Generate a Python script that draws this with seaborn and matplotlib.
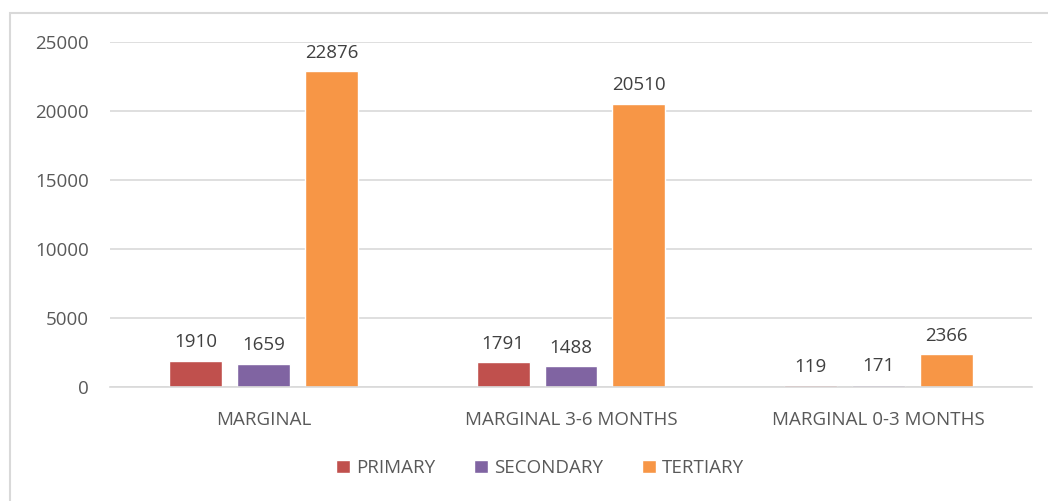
import pandas as pd
import seaborn as sns
import matplotlib.pyplot as plt
from matplotlib.patches import Rectangle

categories = ['MARGINAL', 'MARGINAL 3-6 MONTHS', 'MARGINAL 0-3 MONTHS']
primary = [1910, 1791, 119]
secondary = [1659, 1488, 171]
tertiary = [22876, 20510, 2366]
series = ['PRIMARY', 'SECONDARY', 'TERTIARY']
colors = ['#C0504D', '#8064A2', '#F79646']

df = pd.DataFrame({
    'category': categories * 3,
    'level': [s for s in series for _ in categories],
    'value': primary + secondary + tertiary,
})

sns.set_style('white')
plt.rcParams['font.family'] = ['Open Sans', 'DejaVu Sans']

W, H = 1048, 501
fs = 13.5
fig = plt.figure(figsize=(W / 100, H / 100), dpi=100)
ax = fig.add_axes([110 / W, 1 - 387 / H, 922 / W, 345 / H])

sns.barplot(data=df, x='category', y='value', hue='level', order=categories,
            hue_order=series, palette=colors, width=0.663, gap=0.22,
            saturation=1, ax=ax, legend=True)

for c in ax.containers:
    ax.bar_label(c, fmt='%d', padding=7, fontsize=fs, color='#404040')

ax.set_ylim(0, 25000)
ax.set_yticks(range(0, 25001, 5000))
ax.yaxis.grid(True, color='#D9D9D9', linewidth=1.2)
ax.set_axisbelow(True)
for s in ['top', 'right', 'left']:
    ax.spines[s].set_visible(False)
ax.spines['bottom'].set_color('#D9D9D9')
ax.spines['bottom'].set_linewidth(1.2)
ax.set_xlabel('')
ax.set_ylabel('')
ax.tick_params(axis='both', length=0, labelsize=fs, labelcolor='#595959')
ax.tick_params(axis='y', pad=15)
ax.tick_params(axis='x', pad=17)

leg = ax.legend(loc='center', bbox_to_anchor=(540 / W, 1 - 468 / H),
                bbox_transform=fig.transFigure, ncol=3, frameon=False,
                fontsize=fs, handlelength=0.75, handleheight=0.75,
                handletextpad=0.3, columnspacing=2.1)
for t in leg.get_texts():
    t.set_color('#595959')

fig.patches.append(Rectangle((10 / W, -0.1), 1.2, 1 - 13 / H + 0.1,
                             transform=fig.transFigure, fill=False,
                             edgecolor='#D9D9D9', linewidth=1.5))

fig.savefig('out.png', dpi=100)
